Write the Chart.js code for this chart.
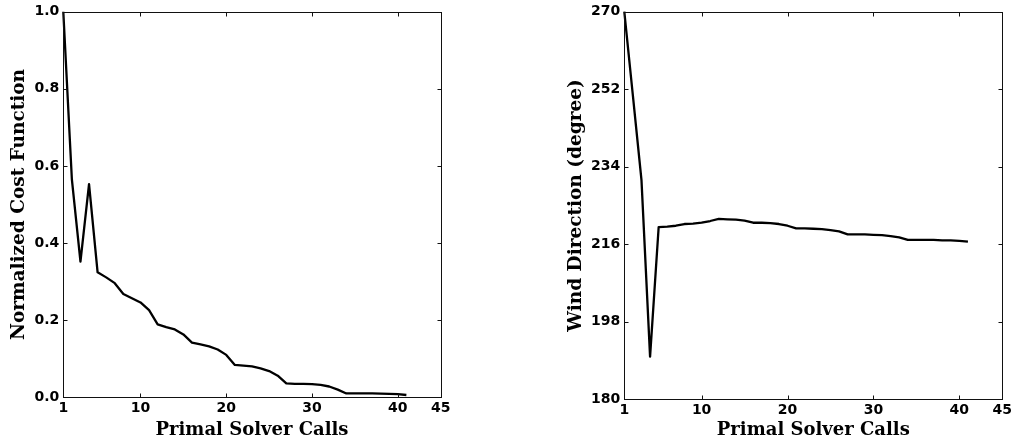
<!DOCTYPE html>
<html>
<head>
<meta charset="utf-8">
<script src="https://cdn.jsdelivr.net/npm/chart.js@4"></script>
<style>
  html, body { margin: 0; padding: 0; background: #fff; }
  body { width: 1015px; height: 444px; position: relative; overflow: hidden; }
  .box { position: absolute; top: 0; height: 444px; }
</style>
</head>
<body>
<div class="box" style="left:0;width:450px"><canvas id="costChart"></canvas></div>
<div class="box" style="left:560px;width:455px"><canvas id="windChart"></canvas></div>
<script>
// x values: primal solver call number
const calls = [1, 2, 3, 4, 5, 6, 7, 8, 9, 10, 11, 12, 13, 14, 15, 16, 17, 18, 19, 20,
  21, 22, 23, 24, 25, 26, 27, 28, 29, 30, 31, 32, 33, 34, 35, 36, 37, 38, 39, 40, 41];

// normalized cost function per call
const costValues = [1.0, 0.565, 0.352, 0.553, 0.324, 0.311, 0.296, 0.268, 0.257, 0.246,
  0.226, 0.189, 0.182, 0.176, 0.163, 0.142, 0.137, 0.132, 0.124, 0.110,
  0.084, 0.082, 0.080, 0.075, 0.068, 0.056, 0.036, 0.035, 0.035, 0.034,
  0.032, 0.028, 0.020, 0.010, 0.010, 0.010, 0.010, 0.0095, 0.009, 0.008, 0.006];

// wind direction (degree) per call
const windValues = [270, 250.5, 230.9, 189.9, 220.0, 220.1, 220.3, 220.7, 220.8, 221.0,
  221.4, 221.9, 221.8, 221.7, 221.5, 221.0, 221.0, 220.9, 220.7, 220.3,
  219.7, 219.7, 219.6, 219.5, 219.3, 219.0, 218.3, 218.3, 218.3, 218.2,
  218.1, 217.9, 217.6, 217.0, 217.0, 217.0, 217.0, 216.9, 216.9, 216.8, 216.6];

// tick labels
const xTicks = [1, 10, 20, 30, 40, 45];
const costTicks = [0.0, 0.2, 0.4, 0.6, 0.8, 1.0];
const windTicks = [180, 198, 216, 234, 252, 270];

const xTitle = 'Primal Solver Calls';
const costTitle = 'Normalized Cost Function';
const windTitle = 'Wind Direction (degree)';

// box around the plot with inward ticks on all four sides
const frame = {
  id: 'frame',
  afterDatasetsDraw(chart) {
    const { ctx, chartArea: a, scales: { x, y } } = chart;
    const len = 4;
    const L = Math.round(a.left) + 0.5, R = Math.round(a.right) + 0.5;
    const T = Math.round(a.top) + 0.5, B = Math.round(a.bottom) + 0.5;
    ctx.save();
    ctx.strokeStyle = '#111';
    ctx.lineWidth = 1;
    ctx.strokeRect(L, T, R - L, B - T);
    ctx.beginPath();
    x.ticks.forEach(t => {
      const px = Math.round(x.getPixelForValue(t.value)) + 0.5;
      ctx.moveTo(px, B); ctx.lineTo(px, B - len);
      ctx.moveTo(px, T); ctx.lineTo(px, T + len);
    });
    y.ticks.forEach(t => {
      const py = Math.round(y.getPixelForValue(t.value)) + 0.5;
      ctx.moveTo(L, py); ctx.lineTo(L + len, py);
      ctx.moveTo(R, py); ctx.lineTo(R - len, py);
    });
    ctx.stroke();
    ctx.restore();
  }
};

function makeChart(id, values, yTicks, yTitle, box) {
  const tickFont = { family: 'DejaVu Sans', weight: 'bold', size: 14 };
  const titleFont = { family: 'DejaVu Serif', weight: 'bold', size: 18 };
  return new Chart(document.getElementById(id), {
    type: 'line',
    data: {
      labels: calls,
      datasets: [{
        data: calls.map((c, i) => ({ x: c, y: values[i] })),
        borderColor: '#000',
        borderWidth: 2.3,
        borderJoinStyle: 'round',
        pointRadius: 0,
        tension: 0,
        clip: 4
      }]
    },
    options: {
      responsive: true,
      maintainAspectRatio: false,
      animation: false,
      events: [],
      layout: { padding: { top: box.top, right: box.right, left: 0, bottom: 0 } },
      plugins: { legend: { display: false }, tooltip: { enabled: false } },
      scales: {
        x: {
          type: 'linear',
          min: xTicks[0],
          max: xTicks[xTicks.length - 1],
          afterBuildTicks: s => { s.ticks = xTicks.map(v => ({ value: v })); },
          afterFit: s => { s.height = box.xHeight; s.paddingLeft = 0; s.paddingRight = 0; },
          grid: { display: false, drawTicks: false },
          border: { display: false },
          ticks: { font: tickFont, color: '#000', padding: 3, maxRotation: 0, autoSkip: false },
          title: { display: true, text: xTitle, font: titleFont, color: '#000', padding: { top: 0, bottom: 3 } }
        },
        y: {
          type: 'linear',
          min: yTicks[0],
          max: yTicks[yTicks.length - 1],
          afterBuildTicks: s => { s.ticks = yTicks.map(v => ({ value: v })); },
          afterFit: s => { s.width = box.yWidth; s.paddingTop = 0; s.paddingBottom = 0; },
          grid: { display: false, drawTicks: false },
          border: { display: false },
          ticks: {
            font: tickFont, color: '#000', padding: 4, autoSkip: false,
            callback: v => box.decimals ? v.toFixed(box.decimals) : String(v)
          },
          title: { display: true, text: yTitle, font: { ...titleFont, size: 18.5 }, color: '#000', padding: { top: box.yTitlePad, bottom: 0 } }
        }
      }
    },
    plugins: [frame]
  });
}

makeChart('costChart', costValues, costTicks, costTitle,
  { top: 11.7, right: 9.3, xHeight: 46.7, yWidth: 63.3, decimals: 1, yTitlePad: 8.5 });
makeChart('windChart', windValues, windTicks, windTitle,
  { top: 11.7, right: 12.7, xHeight: 44.7, yWidth: 64.3, decimals: 0, yTitlePad: 5.5 });
</script>
</body>
</html>
